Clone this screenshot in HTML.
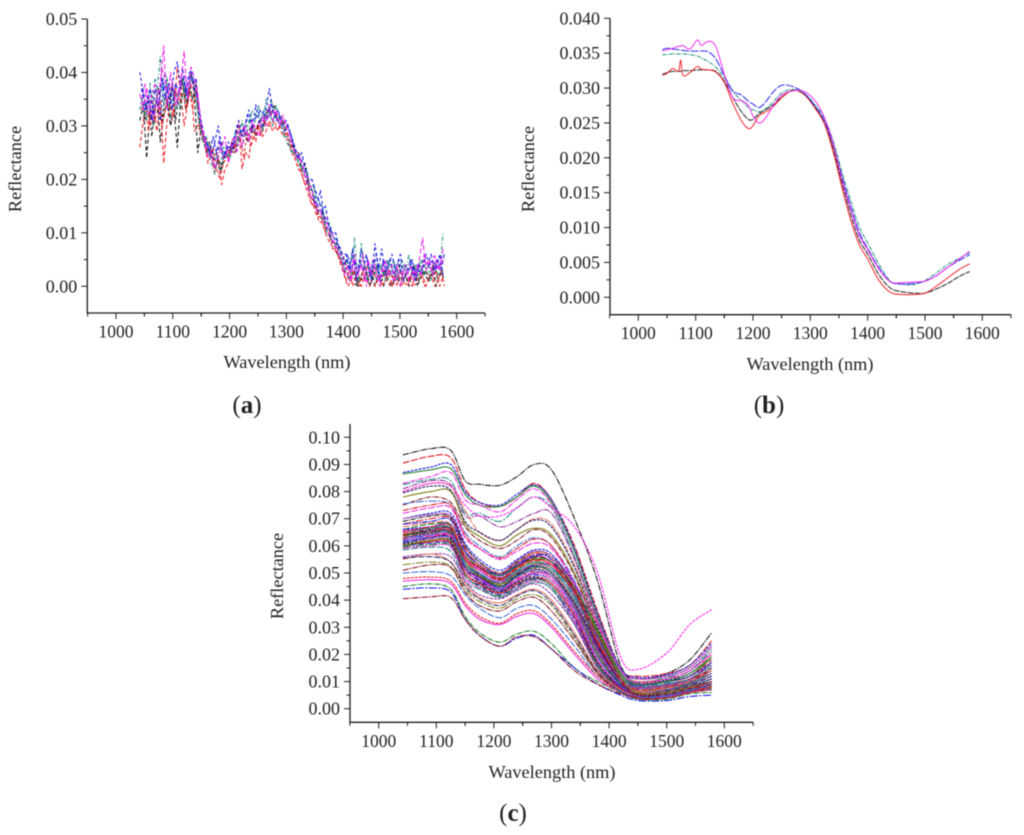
<!DOCTYPE html>
<html lang="en">
<head>
<meta charset="utf-8">
<title>Reflectance spectra panels</title>
<style>
html,body{margin:0;padding:0;background:#fff;}
svg{display:block;filter:blur(0.45px);}
text{font-family:"Liberation Serif",serif;fill:#222;}
</style>
</head>
<body>
<svg id="figure" width="1024" height="835" viewBox="0 0 1024 835" xmlns="http://www.w3.org/2000/svg">
  <rect x="0" y="0" width="1024" height="835" fill="#ffffff"/>

  <g id="panel-a"></g>
  <g id="panel-b"></g>
  <g id="panel-c"></g>

  <text x="287" y="368" font-size="18.3" text-anchor="middle">Wavelength (nm)</text>
  <text transform="translate(21,169) rotate(-90)" font-size="18.3" text-anchor="middle">Reflectance</text>
  <text x="247" y="413" font-size="25" text-anchor="middle">(<tspan font-weight="bold">a</tspan>)</text>

  <text x="810" y="370" font-size="18.3" text-anchor="middle">Wavelength (nm)</text>
  <text transform="translate(534,169) rotate(-90)" font-size="18.3" text-anchor="middle">Reflectance</text>
  <text x="769" y="413" font-size="25" text-anchor="middle">(<tspan font-weight="bold">b</tspan>)</text>

  <text x="552" y="778" font-size="18.3" text-anchor="middle">Wavelength (nm)</text>
  <text transform="translate(283,576) rotate(-90)" font-size="18.3" text-anchor="middle">Reflectance</text>
  <text x="513" y="821" font-size="25" text-anchor="middle">(<tspan font-weight="bold">c</tspan>)</text>
</svg>

<script>
// ---------- shared tick labels ----------
const xTickLabels = [1000, 1100, 1200, 1300, 1400, 1500, 1600];
const aYTickLabels = ["0.00", "0.01", "0.02", "0.03", "0.04", "0.05"];
const bYTickLabels = ["0.000", "0.005", "0.010", "0.015", "0.020", "0.025", "0.030", "0.035", "0.040"];
const cYTickLabels = ["0.00", "0.01", "0.02", "0.03", "0.04", "0.05", "0.06", "0.07", "0.08", "0.09", "0.10"];

// ---------- panel (a): noisy spectra, reflectance in thousandths ----------
const aWavelengths = [1042,1048,1054,1060,1066,1072,1078,1084,1090,1096,1102,1108,1114,1120,1126,1132,1138,1144,1150,1156,1162,1168,1174,1180,1186,1192,1198,1204,1210,1216,1222,1228,1234,1240,1246,1252,1258,1264,1270,1276,1282,1288,1294,1300,1306,1312,1318,1324,1330,1336,1342,1348,1354,1360,1366,1372,1378,1384,1390,1396,1402,1408,1414,1420,1426,1432,1438,1444,1450,1456,1462,1468,1474,1480,1486,1492,1498,1504,1510,1516,1522,1528,1534,1540,1546,1552,1558,1564,1570,1576];
const aWavelengthsOffset = [1045,1051,1057,1063,1069,1075,1081,1087,1093,1099,1105,1111,1117,1123,1129,1135,1141,1147,1153,1159,1165,1171,1177,1183,1189,1195,1201,1207,1213,1219,1225,1231,1237,1243,1249,1255,1261,1267,1273,1279,1285,1291,1297,1303,1309,1315,1321,1327,1333,1339,1345,1351,1357,1363,1369,1375,1381,1387,1393,1399,1405,1411,1417,1423,1429,1435,1441,1447,1453,1459,1465,1471,1477,1483,1489,1495,1501,1507,1513,1519,1525,1531,1537,1543,1549,1555,1561,1567,1573,1578];
const aBlack = [31,34,24,33,30,36,27,32,35,30,33,26,35,37,34,40,36,25,30,27,25,26,22,24,22,25,24,27,25,28,26,29,27,30,28,31,29,32,33,31,32,30,31,29,27,26,24,23,21,20,17,16,14,13,12,10,9,8,6,5,3,2,1,3,0,2,4,1,3,0,2,1,3,1,0,2,4,1,2,0,3,1,4,2,3,1,4,0,2,3];
const aRed = [26,31,34,30,33,29,35,23,31,34,32,41,36,30,34,38,29,30,30,27,23,25,21,24,19,22,23,27,26,31,22,25,24,29,27,30,28,29,31,29,30,30,28,29,27,25,23,22,20,18,16,15,13,13,11,9,8,7,6,4,2,0,1,3,1,0,2,4,1,0,2,0,1,3,0,1,2,0,2,1,0,3,1,2,0,2,1,3,0,2];
const aBlue = [40,36,33,37,32,35,31,38,36,34,40,42,37,39,35,41,37,35,31,28,26,24,27,30,25,24,27,25,28,31,28,30,33,29,34,31,30,33,37,33,31,32,30,31,29,27,25,24,23,21,19,17,15,18,13,12,11,9,8,7,4,6,3,5,2,7,4,5,1,8,3,7,2,4,6,3,5,2,4,3,5,1,4,3,6,4,5,3,6,2];
const aTeal = [33,37,31,38,30,36,43,34,39,31,37,35,33,38,36,40,38,33,29,26,27,23,21,25,27,24,25,26,29,27,31,28,30,33,32,34,29,35,33,30,34,31,29,27,26,25,24,23,21,22,18,19,15,14,13,10,9,8,7,6,3,5,2,9,1,8,3,4,1,5,2,4,1,5,3,4,2,5,3,6,2,4,1,5,3,4,2,5,3,10];
const aMagenta = [36,33,37,34,31,35,38,45,33,40,36,34,38,44,35,41,39,36,30,28,24,25,22,24,26,28,23,26,27,29,26,30,27,31,29,28,32,30,34,31,33,30,32,30,28,26,24,24,22,19,17,16,14,14,12,11,9,8,7,5,2,4,1,6,2,4,1,5,2,4,1,3,5,2,4,1,3,2,4,1,3,2,5,9,3,5,2,5,3,7];
const aBlackOffset = [35,31,36,28,34,37,31,36,33,38,31,36,39,33,37,35,38,31,28,25,27,23,25,21,24,26,25,26,28,27,30,27,30,29,30,31,30,33,32,34,31,32,30,30,28,25,25,22,23,19,18,15,14,14,11,11,8,8,7,6,4,1,3,0,2,1,3,0,2,4,1,0,2,3,1,2,0,3,1,2,4,0,2,3,1,2,4,1,3,1];
const aRedOffset = [33,35,29,36,31,34,30,33,36,31,37,34,38,33,37,33,37,29,27,28,24,26,22,20,23,24,26,25,28,28,24,29,26,28,30,28,31,30,30,31,29,31,29,27,25,24,22,21,19,19,15,16,12,12,10,10,7,7,5,4,1,3,0,2,0,3,1,0,3,1,0,3,1,0,2,0,3,1,0,2,0,1,3,0,1,3,0,1,3,0];
const aBlueOffset = [37,33,36,31,37,34,39,35,38,33,38,36,41,36,40,38,39,32,29,27,25,28,25,28,24,26,26,27,30,29,29,32,31,31,32,33,32,31,34,32,33,31,29,30,28,26,24,25,22,20,20,18,16,14,15,11,10,10,7,6,6,3,7,1,5,3,6,2,4,6,1,5,3,5,2,4,6,1,3,5,2,4,2,5,4,6,3,5,3,6];
const aTealOffset = [35,32,36,34,39,33,38,40,35,37,33,36,39,35,38,35,35,30,27,28,24,25,23,22,26,26,24,27,27,29,29,30,32,30,33,31,33,32,35,32,31,30,28,28,25,26,23,22,22,20,20,17,16,15,12,12,8,9,6,5,5,3,7,2,4,6,1,3,5,1,4,2,5,2,5,1,3,4,2,4,1,3,5,2,4,1,4,2,4,5];
const aMagentaOffset = [34,38,32,36,38,33,41,38,36,38,34,37,40,39,37,38,37,33,28,26,26,23,24,27,24,25,26,28,25,28,30,28,29,30,30,31,31,32,32,33,31,31,31,29,27,25,25,23,21,20,18,15,15,13,13,10,10,7,6,6,3,1,5,2,3,6,0,3,5,2,0,4,2,3,1,4,0,3,2,4,1,4,2,6,4,3,6,3,5,4];

// ---------- panel (b): mean spectra, reflectance in thousandths ----------
const bWavelengths = [1042,1050,1060,1070,1074,1078,1090,1103,1110,1122,1135,1150,1165,1180,1192,1200,1210,1220,1235,1250,1270,1290,1310,1325,1340,1355,1370,1385,1400,1420,1440,1460,1480,1500,1520,1540,1560,1578];
const bBlack = [32.0,32.2,32.4,32.4,32.4,32.5,32.5,32.6,32.6,32.6,32.4,31.0,28.6,26.6,25.5,25.5,26.3,26.8,27.6,28.7,29.7,29.1,27.0,25.0,21.3,16.5,12.0,8.3,6.2,3.2,1.3,0.8,0.6,0.6,1.2,2.0,3.0,3.7];
const bRed = [31.8,32.1,32.8,32.4,34.0,31.8,32.2,33.1,32.7,32.6,32.3,30.8,27.8,25.3,24.2,24.6,26.0,26.5,27.3,28.6,29.7,29.0,26.9,24.8,20.8,15.8,11.2,7.6,5.5,2.4,0.7,0.4,0.4,0.6,1.6,2.8,4.0,4.8];
const bBlue = [35.5,35.7,35.6,35.5,35.4,35.4,35.3,35.3,35.3,35.2,34.2,31.8,29.6,29.0,28.1,27.7,27.2,27.8,29.4,30.4,30.2,29.2,27.2,25.2,21.9,17.4,13.2,9.4,7.0,4.2,2.2,1.9,2.0,2.3,3.1,4.3,5.3,6.1];
const bTeal = [34.8,34.8,34.9,34.9,34.9,34.9,34.8,34.6,34.3,33.8,33.0,31.5,29.5,28.2,27.2,26.9,26.6,26.9,28.0,29.3,29.8,29.2,27.4,25.6,22.4,18.0,14.0,10.2,7.8,4.7,2.3,1.9,1.8,2.4,3.5,4.7,5.6,6.4];
const bMagenta = [35.3,35.5,35.7,36.0,36.0,36.1,35.6,36.9,36.1,36.7,36.0,32.0,28.6,28.2,27.5,26.0,25.0,25.5,27.4,29.0,29.6,29.5,28.0,25.7,22.0,17.0,12.8,9.0,6.8,4.0,2.2,2.1,2.2,2.3,3.1,4.3,5.5,6.6];

// ---------- panel (c): all samples, reflectance in thousandths ----------
const cWavelengths = [1042,1090,1125,1150,1175,1210,1240,1270,1300,1340,1380,1420,1450,1500,1540,1578];
const cSamples = [
[93.5,95.8,95.2,84,82.7,82.3,85.5,90,88,70,47,16,11,13,18,28],
[90.5,93,92.5,81,76,74.5,78,83,77,60,36,15,12,13,16,25],
[87,89,90,80,76,75,79,82.5,77,59,35,15,11.5,12.5,16,24],
[86.5,88,88.5,79,75,74.5,78,82,76,58,34,14,11,12,15,23],
[83,85.5,87,77,75,72.5,77,81,75,56,33,14,11,12,15,23],
[82.5,84.5,84,72,72,69,74,78,74,56,32,14,10,11.5,14,22],
[81,84,82.5,71,71,67,69,72,72,55,32,13,10,11,14,21],
[80,83,82,73,65,62,66,70,68,53,31,13,10,11,13,20],
[79.5,82,80.5,69,65,62,66,69.5,67,52,30,13,9.5,10.5,13,19],
[78,80,80,68,63.5,60,64,66.5,64,50,29,12,9,10,12,19],
[75,78,76,67,62,59,62,66,63,49,28,12,9,10,12,18],
[75.5,76.5,75,65,60,56,60,63,60,47,26,12,8.5,9.5,11,17],
[73,75,75,64,59,55.5,59,62.5,60,46,25,11,8,9,11,17],
[72,74,74,63,59,55,58,61,59,46,25,11,8,9,11,16],
[70,72,72,61,55,51,55,58.5,57,45,25,11,7.5,9,11,16],
[70,71.5,71,60,54,50,54.5,58,56,44,24,10,7.5,8.5,10.5,15],
[69,71,70.5,60,54,50,54,57.5,56,44,24,10,7,8,10,15],
[68,70,70,59,53,49.5,53.5,57,55,43,23,10,7,8,10,14],
[68,69,69.5,58,53,49,53,56.5,55,43,23,10,6.5,7.5,9.5,14],
[66,68,67.5,57,52,48,52,55.5,54,42,22,9.5,6.5,7.5,9.5,14],
[65.5,67,66.5,56,51.5,48.5,52.5,56,54,41,22,9.5,6.5,7,9,13],
[65,66.5,66.5,55,51,47,51,54,52,40,21,9.5,6,7,9,13],
[65,66,66,55,50,46.5,50.5,53,51,39,21,9,6,7,9,12],
[64.5,65.5,66,55,50,46,50,53,51,39,20,9,6,6.5,8.5,12],
[64,65.5,65,54,49.5,46,49.5,52.5,50,38,20,9,5.5,6.5,8.5,12],
[63.5,65,64.5,54,49,45.5,49,52,50,38,20,8.5,5.5,6,8,11],
[63,64.5,64.5,53,49,45,49,51.5,49,37,19,8.5,5.5,6,8,11],
[63,64,64,53,48.5,44.5,48.5,51,49,37,19,8.5,5,6,8,11],
[62.5,63.5,63.5,52,48,44,48,50.5,48,36,18,8,5,5.5,7.5,10],
[62,63.5,63,52,48,44,47.5,50,48,36,18,8,5,5.5,7.5,10],
[61.5,63,62.5,51,47.5,43.5,47,49.5,47,35,17,8,4.5,5,7,10],
[61,62.5,62,51,47,43,47,49,47,35,17,7.5,4.5,5,7,9.5],
[60.5,62,61.5,50,46.5,43,46.5,48.5,46,34,17,7.5,4.5,5,7,9],
[60,61.5,61,50,46,42.5,46,48,46,34,16,7.5,4,4.5,6.5,9],
[60,61,60.5,49,45.5,42,45.5,48,45,33,16,7,4,4.5,6.5,8.5],
[59.5,60.5,60,49,45,41.5,45,47.5,45,32,16,7,4,4.5,6,8],
[59,60,59.5,48,44.5,41,44.5,47,44,32,15,7,3.5,4,6,8],
[58.5,59.5,58,47,44,41,44,46.5,44,31,15,6.5,3.5,4,6,7.5],
[56,57,56,47,42,40.5,43.5,46,42,31,15,7,5,5.5,8,10],
[55,57,54,46,41,39,42,44,40,28,14,7,5,5.5,7.5,9],
[55.5,56,54,45,40.5,38,41.5,43.5,39,27,13.5,6.5,4.5,5,7,9],
[53,54,52.5,44,39.5,37,40.5,42,38,26,13,6.5,4.5,5,7,8.5],
[51,53,52,43,38,36,39.5,41,36,25,13,6.5,4.5,5,7,9],
[50,50.5,49,42,37,33.5,37,38,33,23,12,6.5,4.5,5,7,8],
[48,48.5,47,39,34,31.5,35,36,31,21,12,6,4,4.5,6.5,8],
[47,47.5,46,38,33,31,34,35,30,20,11,6,4,4.5,6,7],
[45,46,44,34,28,24.5,27.5,28.5,24,15,10,6,3.5,3.5,5.5,6],
[44,44.5,43,33,27,23,26,27,22,15,9,5,3,3,4.5,5],
[40.5,41.2,41,33,27,23,26.5,26.5,22,14,9,5.5,4,4,6,7],
[64,65,65.5,55,51,47.5,51.5,54.5,53,42,24,11,8,9,11,14],
[66,67,68,58,53,49.5,53,56,56,46,27,12,8.5,10,12,17],
[64,65,65,57,52,49,52.5,55,54,45,29,13,9,10,13,19],
[62,64,64,56,51,47,50,53,53,46,31,14,9.5,11,14,20],
[65,66.5,66,54,50,45,49,52,51,41,25,12,8,9,11,16],
[63,65,66,52,47,44,47,50,49,38,22,11,7.5,8.5,10,13],
[67,68.5,68,57,53,50,53.5,57.5,56,45,26,11,6.5,7.5,10,14],
[61,63,63,52,48.5,45,49,52.5,50,39,23,10,5,6,8,11],
[60,62,62,53,49,46,50,53.5,52,43,28,12,6,6,8,10],
[64,66,66,56,52,48,52,56,54,44,27,11,5,5.5,7.5,10],
[62,64,65,53,50,46.5,50.5,53,52,42,26,10,4.5,4.5,6.5,9],
[65,67,67,55,52.5,47.5,52,55,53,43,25,10,4,4,6,8],
[80,83,82,75,71,71,74,78,74,67,50,19,14.5,20.5,31,36.5]
];

// ---------- colour and dash styles ----------
const originColors = ["#111111","#e0141e","#1414d8","#157a22","#ee22dd","#1f8a80","#8b2d9c","#e8705e","#14145e","#7a7a14","#7d1020","#3a6ad8","#e0141e","#ee22dd","#1414d8","#b060b8"];
const originDashes = ["6 1 1.5 1","7 1.5","3 1","none","5 1 1 1","8 1.5 2 1.5"];
const cEnvelopeColors = ["#157a22","#1414e8","#8b1020"];

// ---------- scales ----------
function linearScale(d0, d1, r0, r1) {
  return function (v) { return r0 + (v - d0) * (r1 - r0) / (d1 - d0); };
}
const SVG_NS = "http://www.w3.org/2000/svg";
function makeEl(tag, parent) {
  const el = document.createElementNS(SVG_NS, tag);
  parent.appendChild(el);
  return el;
}
function smoothPath(pts) {
  let d = "M" + pts[0][0].toFixed(2) + " " + pts[0][1].toFixed(2);
  for (let i = 0; i < pts.length - 1; i++) {
    const p0 = pts[Math.max(i - 1, 0)], p1 = pts[i], p2 = pts[i + 1], p3 = pts[Math.min(i + 2, pts.length - 1)];
    const c1x = p1[0] + (p2[0] - p0[0]) / 6, c1y = p1[1] + (p2[1] - p0[1]) / 6;
    const c2x = p2[0] - (p3[0] - p1[0]) / 6, c2y = p2[1] - (p3[1] - p1[1]) / 6;
    d += "C" + c1x.toFixed(2) + " " + c1y.toFixed(2) + " " + c2x.toFixed(2) + " " + c2y.toFixed(2) + " " + p2[0].toFixed(2) + " " + p2[1].toFixed(2);
  }
  return d;
}
function straightPath(pts) {
  return "M" + pts.map(function (p) { return p[0].toFixed(2) + " " + p[1].toFixed(2); }).join("L");
}

// ---------- axes ----------
function drawAxes(g, prefix, box, xScale, yScale, yLabels, yMin, yStep) {
  const axes = makeEl("g", g);
  
  
  axes.setAttribute("stroke", "#1c1c1c");
  axes.setAttribute("fill", "none");

  const yAxis = makeEl("line", axes);
  
  
  yAxis.setAttribute("x1", box.left); yAxis.setAttribute("x2", box.left);
  yAxis.setAttribute("y1", box.top); yAxis.setAttribute("y2", box.bottom);
  yAxis.setAttribute("stroke-width", "1.3");

  const xAxis = makeEl("line", axes);
  
  
  xAxis.setAttribute("x1", box.left - 0.6); xAxis.setAttribute("x2", box.right);
  xAxis.setAttribute("y1", box.bottom); xAxis.setAttribute("y2", box.bottom);
  xAxis.setAttribute("stroke-width", "1.3");

  for (let i = 0; i < xTickLabels.length; i++) {
    const v = xTickLabels[i], x = xScale(v);
    const tick = makeEl("line", axes);
    
    
    tick.setAttribute("x1", x); tick.setAttribute("x2", x);
    tick.setAttribute("y1", box.bottom); tick.setAttribute("y2", box.bottom + 6);
    const label = makeEl("text", g);
    
    
    label.setAttribute("x", x);
    label.setAttribute("y", box.bottom + 24.5);
    label.setAttribute("font-size", "17.5");
    label.setAttribute("text-anchor", "middle");
    label.textContent = v;
    [v - 50, v + 50].forEach(function (m) {
      const mx = xScale(m);
      if (mx < box.left - 0.5 || mx > box.right + 0.5) return;
      const minor = makeEl("line", axes);
      
      
      minor.setAttribute("x1", mx); minor.setAttribute("x2", mx);
      minor.setAttribute("y1", box.bottom); minor.setAttribute("y2", box.bottom + 3.5);
    });
  }
  for (let i = 0; i < yLabels.length; i++) {
    const v = yMin + i * yStep, y = yScale(v);
    const tick = makeEl("line", axes);
    
    
    tick.setAttribute("x1", box.left - 6); tick.setAttribute("x2", box.left);
    tick.setAttribute("y1", y); tick.setAttribute("y2", y);
    const label = makeEl("text", g);
    
    
    label.setAttribute("x", box.left - 10);
    label.setAttribute("y", y + 6);
    label.setAttribute("font-size", "18");
    label.setAttribute("text-anchor", "end");
    label.textContent = yLabels[i];
    if (i !== yLabels.length - 1) {
      const my = yScale(v + yStep / 2);
      const minor = makeEl("line", axes);
      
      
      minor.setAttribute("x1", box.left - 3.5); minor.setAttribute("x2", box.left);
      minor.setAttribute("y1", my); minor.setAttribute("y2", my);
    }
  }
  const belowZero = yScale(yMin - yStep / 2);
  if (belowZero < box.bottom - 1) {
    const minor = makeEl("line", axes);
    
    
    minor.setAttribute("x1", box.left - 3.5); minor.setAttribute("x2", box.left);
    minor.setAttribute("y1", belowZero); minor.setAttribute("y2", belowZero);
  }
}

// ---------- series ----------
function drawSeries(g, name, xs, values, xScale, yScale, color, dash, width, smooth) {
  const pts = xs.map(function (w, i) { return [xScale(w), yScale(values[i])]; });
  const path = makeEl("path", g);
  
  
  path.setAttribute("d", smooth ? smoothPath(pts) : straightPath(pts));
  path.setAttribute("fill", "none");
  path.setAttribute("stroke", color);
  path.setAttribute("stroke-width", width);
  path.setAttribute("stroke-linejoin", "round");
  if (dash !== "none") path.setAttribute("stroke-dasharray", dash);
}

// panel a
(function () {
  const g = document.getElementById("panel-a");
  const box = { left: 87.3, right: 485, top: 19, bottom: 313 };
  const x = linearScale(1000, 1600, 116, 456.7);
  const y = linearScale(0, 50, 286.3, 19);
  drawAxes(g, "panel-a", box, x, y, aYTickLabels, 0, 10);
  drawSeries(g, "panel-a-series-black", aWavelengths, aBlack, x, y, "#111111", "4 2.5", 1.05, false);
  drawSeries(g, "panel-a-series-black-replicate", aWavelengthsOffset, aBlackOffset, x, y, "#111111", "3 2.5", 1.05, false);
  drawSeries(g, "panel-a-series-red", aWavelengths, aRed, x, y, "#ee1c24", "4 2.5", 1.05, false);
  drawSeries(g, "panel-a-series-red-replicate", aWavelengthsOffset, aRedOffset, x, y, "#ee1c24", "3 2.5", 1.05, false);
  drawSeries(g, "panel-a-series-teal", aWavelengths, aTeal, x, y, "#1f8a80", "4 2 1 2", 1.05, false);
  drawSeries(g, "panel-a-series-teal-replicate", aWavelengthsOffset, aTealOffset, x, y, "#1f8a80", "3 2.5", 1.05, false);
  drawSeries(g, "panel-a-series-blue", aWavelengths, aBlue, x, y, "#1414e0", "3 2.5", 1.05, false);
  drawSeries(g, "panel-a-series-blue-replicate", aWavelengthsOffset, aBlueOffset, x, y, "#1414e0", "4 2.5", 1.05, false);
  drawSeries(g, "panel-a-series-magenta", aWavelengths, aMagenta, x, y, "#ee22ee", "5 2.5", 1.05, false);
  drawSeries(g, "panel-a-series-magenta-replicate", aWavelengthsOffset, aMagentaOffset, x, y, "#ee22ee", "3 2.5", 1.05, false);
})();

// panel b
(function () {
  const g = document.getElementById("panel-b");
  const box = { left: 610, right: 1011, top: 18.3, bottom: 314.7 };
  const x = linearScale(1000, 1600, 638.3, 982.3);
  const y = linearScale(0, 40, 297.3, 18.3);
  drawAxes(g, "panel-b", box, x, y, bYTickLabels, 0, 5);
  drawSeries(g, "panel-b-series-black", bWavelengths, bBlack, x, y, "#222222", "6 1", 1, true);
  drawSeries(g, "panel-b-series-red", bWavelengths, bRed, x, y, "#f0262e", "none", 1, true);
  drawSeries(g, "panel-b-series-teal", bWavelengths, bTeal, x, y, "#1f8a80", "4 1 1 1", 1, true);
  drawSeries(g, "panel-b-series-blue", bWavelengths, bBlue, x, y, "#2a2ae8", "8 1.5", 1, true);
  drawSeries(g, "panel-b-series-magenta", bWavelengths, bMagenta, x, y, "#f02cf0", "none", 1, true);
})();

// panel c
(function () {
  const g = document.getElementById("panel-c");
  const box = { left: 350, right: 753.3, top: 424, bottom: 722.3 };
  const x = linearScale(1000, 1600, 378.7, 724.3);
  const y = linearScale(0, 100, 708.7, 437.3);
  drawAxes(g, "panel-c", box, x, y, cYTickLabels, 0, 10);
  cSamples.forEach(function (sample, i) {
    let color = originColors[i % originColors.length];
    if (i >= 46 && i <= 48) color = cEnvelopeColors[i - 46];
    if (i === cSamples.length - 1) color = "#ff22ee";
    const dash = i === cSamples.length - 1 ? "3 1" : originDashes[i % originDashes.length];
    drawSeries(g, "panel-c-sample-" + (i + 1), cWavelengths, sample, x, y, color, dash, 1.05, true);
  });
})();
</script>
</body>
</html>
